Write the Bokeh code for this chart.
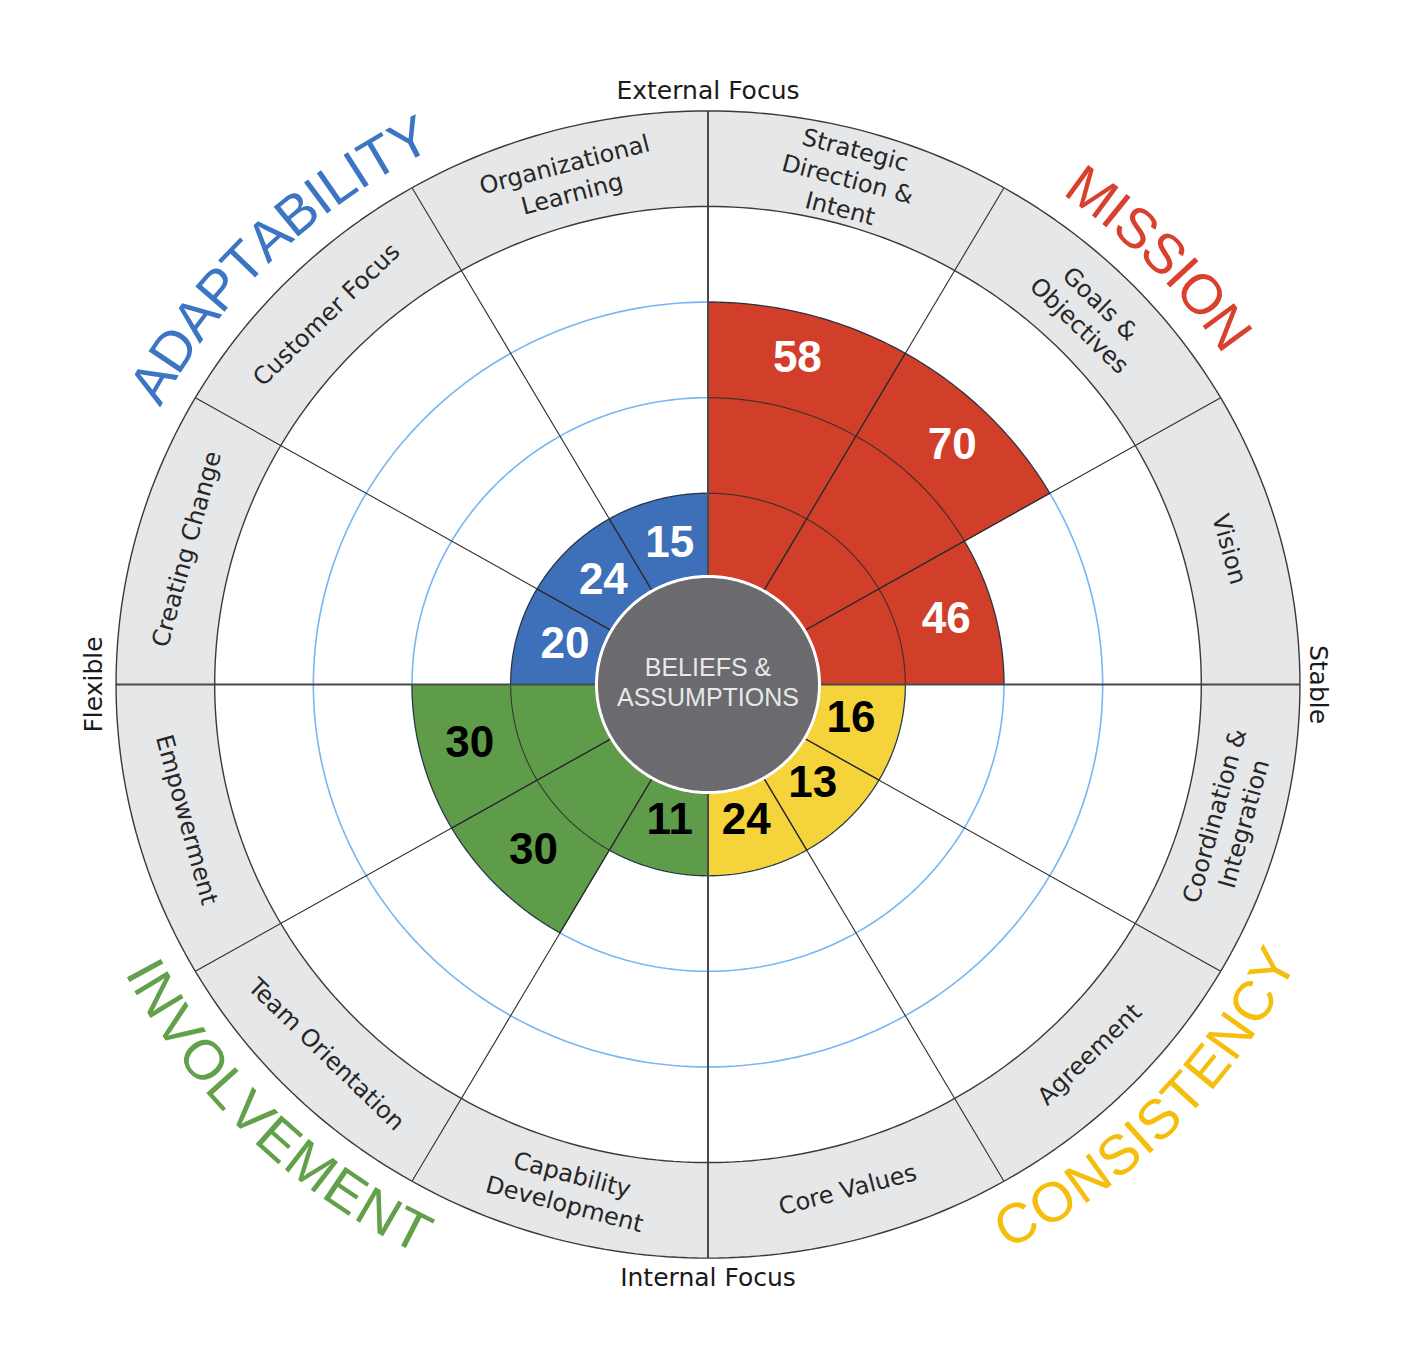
import math
import numpy as np
from bokeh.plotting import figure
from bokeh.models import Range1d, ColumnDataSource
from bokeh.embed import file_html
from bokeh.resources import INLINE
from bokeh.core.properties import value

# ---------------- data ----------------
sector_labels = ["Strategic\nDirection &\nIntent", "Goals &\nObjectives", "Vision",
                 "Coordination &\nIntegration", "Agreement", "Core Values",
                 "Capability\nDevelopment", "Team Orientation", "Empowerment",
                 "Creating Change", "Customer Focus", "Organizational\nLearning"]
scores = [58, 70, 46, 16, 13, 24, 11, 30, 30, 20, 24, 15]
sector_trait = [0, 0, 0, 1, 1, 1, 2, 2, 2, 3, 3, 3]
trait_names = ["MISSION", "CONSISTENCY", "INVOLVEMENT", "ADAPTABILITY"]
axis_names = ["External Focus", "Stable", "Internal Focus", "Flexible"]
center_label = "BELIEFS &\nASSUMPTIONS"
quartile_size = 25

# ---------------- style ----------------
W, H = 1413, 1369
CX, CY = 707.5, 684.0          # pixel centre of the wheel
SX, SY = 98.66, 95.6           # pixels per ring unit (image is slightly wider than tall)
trait_fill = ["#d13e29", "#f4d33b", "#5f9c4a", "#3e70b9"]
trait_word = ["#d9402d", "#f6be0c", "#62a04a", "#3b75c4"]
word_mid = [44.3, -44.3, -134.6, 134.3]   # angular centre of each curved word
number_color = ["#ffffff", "#000000", "#000000", "#ffffff"]
BAND = "#e6e7e8"
GRID_BLUE = "#78b6f3"
DARK = "#2e2e2e"
FONT = "Liberation Sans"
SMALL_FONT = "DejaVu Sans"

p = figure(width=W, height=H, output_backend="svg", toolbar_location=None,
           x_range=Range1d(-CX / SX, (W - CX) / SX),
           y_range=Range1d(-(H - CY) / SY, CY / SY),
           x_axis_location=None, y_axis_location=None,
           min_border=0, outline_line_color=None,
           background_fill_color="white", border_fill_color="white")
p.grid.visible = False


def arc(r, a0, a1, n=120):
    t = np.radians(np.linspace(a0, a1, n))
    return list(r * np.cos(t)), list(r * np.sin(t))


def norm(a):
    return (a + 180.0) % 360.0 - 180.0


def tangent_rot(phi_deg, clockwise):
    phi = math.radians(phi_deg)
    dx, dy = -SX * math.sin(phi), SY * math.cos(phi)
    if clockwise:
        dx, dy = -dx, -dy
    return math.atan2(dy, dx)


# outer band
bx, by = arc(6, 0, 360, 361)
p.patch(bx, by, fill_color=BAND, line_color=None)
wx, wy = arc(5, 0, 360, 361)
p.patch(wx, wy, fill_color="white", line_color=None)

# light blue quartile circles
gx, gy = [], []
for r in (2, 3, 4):
    x, y = arc(r, 0, 360, 361)
    gx.append(x)
    gy.append(y)
p.multi_line(gx, gy, line_color=GRID_BLUE, line_width=1.6)

# wedges
levels = [min(4, max(1, math.ceil(s / quartile_size))) for s in scores]
wxs, wys, wcol = [], [], []
ax_, ay_ = [], []
for i, (s, lv) in enumerate(zip(scores, levels)):
    a0 = 90 - 30 * i
    a1 = a0 - 30
    x, y = arc(1 + lv, a1, a0, 60)
    wxs.append([0.0] + x)
    wys.append([0.0] + y)
    wcol.append(trait_fill[sector_trait[i]])
    for r in range(2, lv + 1):
        x, y = arc(r, a1, a0, 60)
        ax_.append(x)
        ay_.append(y)
p.patches(wxs, wys, fill_color=wcol, line_color=DARK, line_width=1.1)
p.multi_line(ax_, ay_, line_color=DARK, line_width=1.1, line_alpha=0.9)

# radial dividers
rx, ry, mx, my = [], [], [], []
for k in range(12):
    a = math.radians(30 * k)
    if k % 3 == 0:
        mx.append([0, 6 * math.cos(a)])
        my.append([0, 6 * math.sin(a)])
    else:
        rx.append([0, 6 * math.cos(a)])
        ry.append([0, 6 * math.sin(a)])
p.multi_line(rx, ry, line_color=DARK, line_width=1.1)
p.multi_line(mx, my, line_color="#4a4a4a", line_width=2.0)

# band outlines
ox, oy = [], []
for r in (5, 6):
    x, y = arc(r, 0, 360, 361)
    ox.append(x)
    oy.append(y)
p.multi_line(ox, oy, line_color="#3a3a3a", line_width=1.4)

# centre circle
cx_, cy_ = arc(1.13, 0, 360, 361)
p.patch(cx_, cy_, fill_color="#6a6a6f", line_color="white", line_width=3)
p.text(x=[0], y=[0.03], text=[center_label], text_align="center", text_baseline="middle",
       text_font=value(FONT), text_font_size="25px", text_color="#e8e8e8",
       text_line_height=1.08)

# score numbers
mids = [norm(90 - 30 * i - 15) for i in range(12)]
num_src = ColumnDataSource(dict(
    x=[(lv + 0.5) * math.cos(math.radians(m)) for lv, m in zip(levels, mids)],
    y=[(lv + 0.5) * math.sin(math.radians(m)) + 0.05 for lv, m in zip(levels, mids)],
    t=[str(s) for s in scores],
    c=[number_color[sector_trait[i]] for i in range(12)]))
p.text(x="x", y="y", text="t", text_color="c", source=num_src, text_align="center",
       text_baseline="middle", text_font=value(FONT), text_font_size="44px",
       text_font_style="bold")

# band labels
RB = 5.47
lab_src = ColumnDataSource(dict(
    x=[RB * math.cos(math.radians(m)) for m in mids],
    y=[RB * math.sin(math.radians(m)) for m in mids],
    t=sector_labels,
    a=[tangent_rot(m, math.sin(math.radians(m)) > 0) for m in mids]))
p.text(x="x", y="y", text="t", angle="a", source=lab_src, text_align="center",
       text_baseline="middle", text_font=value(SMALL_FONT), text_font_size="24px",
       text_color="#262626", text_line_height=1.08)

# axis labels (top, right, bottom, left)
ax_off = [6.21, 6.19, 6.20, 6.23]
ax_dir = [90, 0, -90, 180]
ax_ang = [0, -math.pi / 2, 0, math.pi / 2]
axl = ColumnDataSource(dict(
    x=[o * math.cos(math.radians(d)) for o, d in zip(ax_off, ax_dir)],
    y=[o * math.sin(math.radians(d)) for o, d in zip(ax_off, ax_dir)],
    t=axis_names, a=ax_ang))
p.text(x="x", y="y", text="t", angle="a", source=axl, text_align="center",
       text_baseline="alphabetic", text_font=value(SMALL_FONT), text_font_size="25px",
       text_color="#1a1a1a")

# curved trait names
CW = {"A": .667, "B": .667, "C": .722, "D": .722, "E": .667, "I": .278, "L": .556,
      "M": .833, "N": .722, "O": .778, "P": .667, "S": .667, "T": .611, "U": .722,
      "V": .667, "Y": .667}
FS = 56
lx, ly, lt, la, lc = [], [], [], [], []
for ti, word in enumerate(trait_names):
    mid = word_mid[ti]
    cw = math.sin(math.radians(mid)) > 0
    r_center = 6.47 if cw else 6.42
    cap = 0.716 * FS / SY
    r_base = r_center - cap / 2 + 0.2 if cw else r_center + cap / 2 - 0.19
    rpx = r_center * (SX + SY) / 2
    widths = [CW[ch] * FS for ch in word]
    total = sum(widths)
    cum = 0.0
    for ch, w in zip(word, widths):
        c = cum + w / 2
        cum += w
        d = math.degrees((total / 2 - c) / rpx)
        phi = mid + d if cw else mid - d
        lx.append(r_base * math.cos(math.radians(phi)))
        ly.append(r_base * math.sin(math.radians(phi)))
        lt.append(ch)
        la.append(tangent_rot(phi, cw))
        lc.append(trait_word[ti])
wsrc = ColumnDataSource(dict(x=lx, y=ly, t=lt, a=la, c=lc))
p.text(x="x", y="y", text="t", angle="a", text_color="c", source=wsrc,
       text_align="center", text_baseline="alphabetic", text_font=value(FONT),
       text_font_size=f"{FS}px")

open("out.html", "w").write(file_html(p, INLINE))
